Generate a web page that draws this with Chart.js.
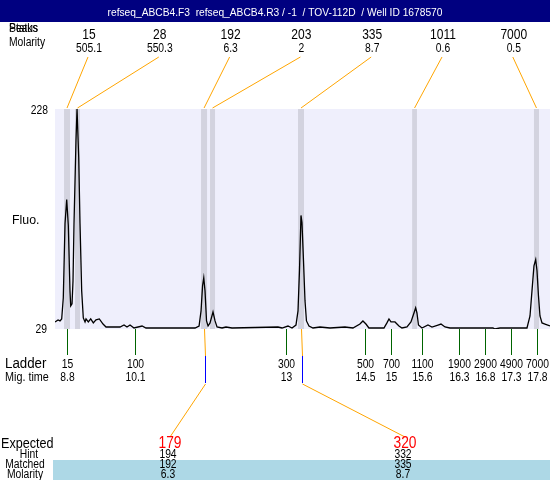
<!DOCTYPE html>
<html>
<head>
<meta charset="utf-8">
<script src="https://cdn.jsdelivr.net/npm/chart.js@4.4.0/dist/chart.umd.min.js"></script>
<style>
  html, body { margin: 0; padding: 0; background: #fff; }
  #wrap { width: 550px; height: 480px; }
</style>
</head>
<body>
<div id="wrap"><canvas id="trace" width="550" height="480"></canvas></div>
<script>
// Trace: migration time (min) vs fluorescence
const traceTime = [8.570, 8.628, 8.666, 8.698, 8.729, 8.762, 8.794, 8.825, 8.857, 8.871, 8.896, 8.915, 8.934, 8.972, 8.992, 9.024, 9.049, 9.081, 9.112, 9.145,
  9.164, 9.208, 9.254, 9.304, 9.355, 9.419, 9.490, 9.547, 9.815, 9.892, 9.949, 10.007, 10.083, 10.237, 10.313, 10.582, 10.773,
  11.252, 11.329, 11.367, 11.396, 11.419, 11.443, 11.472, 11.501, 11.539, 11.596, 11.635, 11.673, 11.769, 11.845, 11.960,
  12.840, 12.917, 13.032, 13.109, 13.185, 13.224, 13.252, 13.281, 13.300, 13.329, 13.358, 13.386, 13.434, 13.511, 13.645, 13.836,
  14.123, 14.276, 14.410, 14.467, 14.525, 14.582, 14.870, 14.927, 14.966, 15.004, 15.081, 15.157, 15.215, 15.311, 15.387, 15.445,
  15.477, 15.502, 15.531, 15.598, 15.713, 15.790, 15.905, 15.962, 16.039, 16.135, 16.958, 16.996, 17.092, 17.609, 17.667, 17.705,
  17.743, 17.776, 17.801, 17.829, 17.858, 17.897, 17.954, 18.050];
const traceFluo = [35.4, 37.2, 36.3, 38.1, 57.2, 124.4, 146.2, 122.6, 63.5, 49.9, 51.7, 72.6, 124.4, 199.8, 228, 184.4, 124.4, 63.5, 39.0, 35.4,
  38.1, 35.4, 38.1, 34.5, 37.2, 38.1, 33.5, 30.8, 30.8, 32.6, 30.8, 32.6, 29.9, 31.7, 29.9, 29.9, 29.9,
  29.9, 31.7, 45.4, 68.1, 75.3, 63.5, 36.3, 31.7, 34.5, 44.4, 36.3, 30.8, 29.9, 30.8, 29.9,
  30.8, 29.9, 31.7, 29.9, 32.6, 45.4, 81.7, 131.7, 125.3, 90.8, 54.4, 36.3, 31.7, 29.9, 30.8, 29.9,
  30.8, 29.9, 33.5, 36.3, 33.5, 29.9, 29.9, 34.5, 38.1, 35.4, 35.4, 31.7, 29.9, 30.8, 35.4, 43.5,
  48.1, 43.5, 32.6, 29.9, 32.6, 30.8, 32.6, 33.5, 30.8, 29.9, 29.9, 29.0, 29.9, 29.9, 40.8, 63.5,
  86.2, 91.7, 81.7, 59.0, 40.8, 34.5, 33.5, 31.7];

const timeMin = 8.57, timeMax = 18.05;
const fluoMin = 29, fluoMax = 228;

// Called peaks
const peakSize = ['15', '28', '192', '203', '335', '1011', '7000'];
const peakMolarity = ['505.1', '550.3', '6.3', '2', '8.7', '0.6', '0.5'];
const peakStart = [8.743, 8.953, 11.367, 11.539, 13.224, 15.410, 17.743];
const peakEnd = [8.857, 9.049, 11.482, 11.635, 13.339, 15.502, 17.839];

// Ladder
const ladderSize = ['15', '100', '300', '500', '700', '1100', '1900', '2900', '4900', '7000'];
const ladderTime = [8.8, 10.1, 13, 14.5, 15, 15.6, 16.3, 16.8, 17.3, 17.8];

// Expected table
const expected = ['179', '320'];
const hint = ['194', '332'];
const matched = ['192', '335'];
const matchedMolarity = ['6.3', '8.7'];
const matchedTime = [11.42, 13.28];

const title = 'refseq_ABCB4.F3  refseq_ABCB4.R3 / -1  / TOV-112D  / Well ID 1678570';
const FONT = '"Liberation Sans", Arial, sans-serif';
const ORANGE = '#ffa500';

// draw text squeezed horizontally (the original uses a narrow font)
function txt(ctx, s, x, y, size, align, color, sx) {
    sx = sx || 0.86;
    ctx.save();
    ctx.font = size + 'px ' + FONT;
    ctx.fillStyle = color || '#000';
    ctx.textAlign = align || 'center';
    ctx.translate(x, y);
    ctx.scale(sx, 1);
    ctx.fillText(s, 0, 0);
    ctx.restore();
}

function line(ctx, x0, y0, x1, y1, color) {
    ctx.strokeStyle = color;
    ctx.lineWidth = 1;
    ctx.beginPath();
    ctx.moveTo(x0, y0);
    ctx.lineTo(x1, y1);
    ctx.stroke();
}

const decorations = {
    id: 'decorations',
    beforeDatasetsDraw(chart) {
        const { ctx, chartArea: a, scales: { x } } = chart;
        ctx.save();
        ctx.fillStyle = '#efeffc';
        ctx.fillRect(a.left, a.top, a.right - a.left, a.bottom - a.top);
        ctx.fillStyle = '#d3d3df';
        peakStart.forEach((s, i) => {
            const x0 = x.getPixelForValue(s), x1 = x.getPixelForValue(peakEnd[i]);
            ctx.fillRect(x0, a.top, x1 - x0, a.bottom - a.top);
        });
        ctx.restore();
    },
    afterDraw(chart) {
        const { ctx, chartArea: a, scales: { x } } = chart;
        const W = chart.width;
        ctx.save();
        ctx.textBaseline = 'alphabetic';

        // header bar
        ctx.fillStyle = '#000080';
        ctx.fillRect(0, 0, W, 22);
        txt(ctx, title, 275, 16, 11, 'center', '#fff', 0.93);

        // row labels top-left (overlapping, partly under the bar)
        ctx.save();
        ctx.beginPath();
        ctx.rect(0, 22, 60, 20);
        ctx.clip();
        txt(ctx, 'Status', 9, 32, 12, 'left');
        txt(ctx, 'Peaks', 9, 32, 12, 'left');
        ctx.restore();
        txt(ctx, 'Molarity', 9, 46, 12, 'left');

        // peak labels and connectors
        peakSize.forEach((s, i) => {
            const lx = 89 + i * 70.8;
            txt(ctx, s, lx, 39, 14);
            txt(ctx, peakMolarity[i], lx, 52, 12);
            const px = (x.getPixelForValue(peakStart[i]) + x.getPixelForValue(peakEnd[i])) / 2;
            line(ctx, lx - 1, 57, px, a.top - 1, ORANGE);
        });

        // y axis labels
        txt(ctx, String(fluoMax), 48, a.top + 5, 12, 'right');
        txt(ctx, String(fluoMin), 47, a.bottom + 4, 12, 'right');
        txt(ctx, 'Fluo.', 12, 224, 13, 'left', '#000', 0.95);

        // ladder
        txt(ctx, 'Ladder', 5, 368, 14, 'left', '#000', 0.95);
        txt(ctx, 'Mig. time', 5, 381, 12, 'left', '#000', 0.9);
        ladderTime.forEach((t, i) => {
            const px = Math.round(x.getPixelForValue(t)) + 0.5;
            line(ctx, px, a.bottom, px, 355, '#006400');
            txt(ctx, ladderSize[i], px, 368, 12);
            txt(ctx, String(t), px, 381, 12);
        });

        // expected table
        const cols = [170, 405];
        ctx.fillStyle = '#add8e6';
        ctx.fillRect(53, 460, W - 53, 20);
        txt(ctx, 'Expected', 1, 448, 14, 'left', '#000', 0.9);
        txt(ctx, 'Hint', 29, 458, 12);
        txt(ctx, 'Matched', 25, 468, 12);
        txt(ctx, 'Molarity', 25, 478, 12);
        expected.forEach((e, i) => {
            const px = Math.round(x.getPixelForValue(matchedTime[i])) + 0.5;
            line(ctx, px, a.bottom, px + 1, 356, ORANGE);
            line(ctx, px + 1, 356, px + 1, 383, '#0000ff');
            line(ctx, px + 1, 384, cols[i], 437, ORANGE);
            txt(ctx, e, cols[i], 448, 16, 'center', '#ff0000');
            txt(ctx, hint[i], cols[i] - 2, 458, 12);
            txt(ctx, matched[i], cols[i] - 2, 468, 12);
            txt(ctx, matchedMolarity[i], cols[i] - 2, 478, 12);
        });
        ctx.restore();
    }
};

const points = traceTime.map((t, i) => ({ x: t, y: traceFluo[i] }));

new Chart(document.getElementById('trace'), {
    type: 'line',
    data: {
        datasets: [{
            data: points,
            borderColor: '#000',
            borderWidth: 1.3,
            pointRadius: 0,
            tension: 0,
            fill: false
        }]
    },
    options: {
        responsive: false,
        animation: false,
        layout: { padding: { left: 55, right: 0, top: 109, bottom: 151 } },
        scales: {
            x: { type: 'linear', min: timeMin, max: timeMax, display: false },
            y: { min: fluoMin, max: fluoMax, display: false }
        },
        plugins: {
            legend: { display: false },
            tooltip: { enabled: false }
        }
    },
    plugins: [decorations]
});
</script>
</body>
</html>
